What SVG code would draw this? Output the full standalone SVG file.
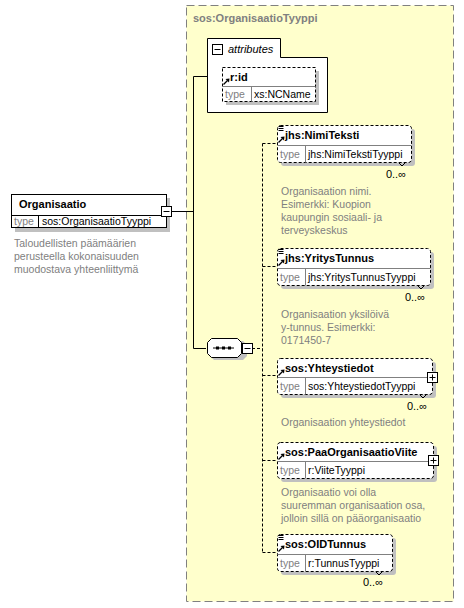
<svg xmlns="http://www.w3.org/2000/svg" width="464" height="608" viewBox="0 0 464 608">
<defs>
<style>
.name{font-family:"Liberation Sans",Arial,sans-serif;font-weight:bold;font-size:11px;fill:#000}
.tl{font-family:"Liberation Sans",Arial,sans-serif;font-size:10.5px;fill:#808080}
.tv{font-family:"Liberation Sans",Arial,sans-serif;font-size:10.5px;fill:#000}
.doc{font-family:"Liberation Sans",Arial,sans-serif;font-size:10.5px;fill:#808080}
.mult{font-family:"Liberation Sans",Arial,sans-serif;font-size:11px;fill:#000}
.shadow{fill:#c0c0c0;stroke:none}
.box{fill:#fff;stroke:#000;stroke-width:1}
.opt{fill:#fff;stroke:#000;stroke-width:1;stroke-dasharray:3 2}
.div{stroke:#808080;stroke-width:1;fill:none}
.ln{stroke:#000;stroke-width:1;fill:none}
.dl{stroke:#000;stroke-width:1;fill:none;stroke-dasharray:3 2}
.btn{fill:#fff;stroke:#000;stroke-width:1}
</style>
<g id="ico-lines"><path d="M0.5 0.5H5.5M0.5 2.5H5.5M0.5 4.5H5.5" stroke="#000" stroke-width="1" fill="none"/></g>
<g id="ico-ref"><path d="M0.5 6.5L4.5 2.5" stroke="#000" stroke-width="1.2" fill="none"/><path d="M2.5 1L6.5 0.5L6 4.5Z" fill="#000"/></g>
</defs>

<g id="complexType">
<rect x="186.5" y="5.5" width="267" height="596" fill="#ffffcc" stroke="#808080" stroke-width="1" stroke-dasharray="8 4"/>
<text x="193" y="22" class="name" style="fill:#808080">sos:OrganisaatioTyyppi</text>
</g>

<g id="connectors">
<path class="ln" d="M171 211.5H193.5M193.5 76.5V348.5M193.5 76.5H207M193.5 348.5H206"/>
<path class="dl" d="M252 348.5H262.5M262.5 143.5V552.5M262.5 143.5H277M262.5 266.5H277M262.5 375.5H277M262.5 460.5H277M262.5 552.5H277"/>
</g>

<g id="organisaatio">
<rect x="15" y="198" width="155" height="34" class="shadow"/>
<rect x="11.5" y="194.5" width="155" height="33" class="box"/>
<path class="ln" d="M11.5 215.5H166.5M38.5 215.5V227.5"/>
<text x="19" y="208" class="name">Organisaatio</text>
<text x="14" y="225" class="tl">type</text>
<text x="42" y="225" class="tv">sos:OrganisaatioTyyppi</text>
<rect x="161.5" y="206.5" width="10" height="10" class="btn"/>
<path class="ln" d="M163.5 211.5H169.5"/>
<text class="doc"><tspan x="14" y="247">Taloudellisten päämäärien</tspan><tspan x="14" y="260">perusteella kokonaisuuden</tspan><tspan x="14" y="273">muodostava yhteenliittymä</tspan></text>
</g>

<g id="attributes">
<path d="M207.5 112.5V38.5H280.5V57.5H327.5V112.5Z" fill="#fff" stroke="#000" stroke-width="1"/>
<rect x="212.5" y="44.5" width="10" height="10" class="btn"/>
<path class="ln" d="M214.5 49.5H220.5"/>
<text x="228" y="53" style="font-family:'Liberation Sans',Arial,sans-serif;font-size:11px;font-style:italic;fill:#000">attributes</text>
</g>

<g id="attr-rid">
<rect x="226" y="71" width="93" height="34" class="shadow"/>
<rect x="222.5" y="67.5" width="93" height="34" class="opt"/>
<path class="div" d="M222.5 86.5H315.5M251.5 86.5V101.5"/>
<use href="#ico-ref" x="223" y="78"/>
<text x="230" y="81" class="name">r:id</text>
<text x="225" y="98" class="tl">type</text>
<text x="254" y="98" class="tv">xs:NCName</text>
</g>

<g id="sequence">
<path d="M214 341H243L247 345V356L243 360H214L210 356V345Z" class="shadow"/>
<path d="M211.5 338.5H237.5L241.5 342.5V353.5L237.5 357.5H211.5L207.5 353.5V342.5Z" fill="#fff" stroke="#000" stroke-width="1"/>
<path class="ln" d="M213 348H234"/>
<rect x="216" y="346.5" width="3" height="3" fill="#000"/>
<rect x="222" y="346.5" width="3" height="3" fill="#000"/>
<rect x="228" y="346.5" width="3" height="3" fill="#000"/>
<rect x="242.5" y="343.5" width="10" height="10" class="btn"/>
<path class="ln" d="M244.5 348.5H250.5"/>
</g>

<g id="el-nimiteksti">
<rect x="281" y="129" width="134" height="37" rx="3" class="shadow"/>
<rect x="277.5" y="125.5" width="134" height="37" rx="3" class="opt"/>
<path class="div" d="M277.5 145.5H411.5M305.5 145.5V162.5"/>
<use href="#ico-lines" x="278" y="126"/>
<use href="#ico-ref" x="278" y="136"/>
<text x="285" y="139" class="name">jhs:NimiTeksti</text>
<text x="280" y="158" class="tl">type</text>
<text x="308" y="158" class="tv">jhs:NimiTekstiTyyppi</text>
<path class="ln" d="M399 163L402 166L405 163"/>
<text x="406" y="178" class="mult" text-anchor="end">0..∞</text>
<text class="doc"><tspan x="281" y="195">Organisaation nimi.</tspan><tspan x="281" y="208">Esimerkki: Kuopion</tspan><tspan x="281" y="221">kaupungin sosiaali- ja</tspan><tspan x="281" y="234">terveyskeskus</tspan></text>
</g>

<g id="el-yritystunnus">
<rect x="281" y="252" width="153" height="37" rx="3" class="shadow"/>
<rect x="277.5" y="248.5" width="153" height="37" rx="3" class="opt"/>
<path class="div" d="M277.5 268.5H430.5M305.5 268.5V285.5"/>
<use href="#ico-lines" x="278" y="249"/>
<use href="#ico-ref" x="278" y="259"/>
<text x="285" y="262" class="name">jhs:YritysTunnus</text>
<text x="280" y="281" class="tl">type</text>
<text x="308" y="281" class="tv">jhs:YritysTunnusTyyppi</text>
<path class="ln" d="M418 286L421 289L424 286"/>
<text x="425" y="301" class="mult" text-anchor="end">0..∞</text>
<text class="doc"><tspan x="281" y="318">Organisaation yksilöivä</tspan><tspan x="281" y="331">y-tunnus. Esimerkki:</tspan><tspan x="281" y="344">0171450-7</tspan></text>
</g>

<g id="el-yhteystiedot">
<rect x="281" y="362" width="155" height="36" rx="3" class="shadow"/>
<rect x="277.5" y="358.5" width="155" height="36" rx="3" class="opt"/>
<path class="div" d="M277.5 377.5H432.5M305.5 377.5V394.5"/>
<use href="#ico-ref" x="278" y="369"/>
<text x="285" y="372" class="name">sos:Yhteystiedot</text>
<text x="280" y="390" class="tl">type</text>
<text x="308" y="390" class="tv">sos:YhteystiedotTyyppi</text>
<rect x="427.5" y="372.5" width="10" height="10" class="btn"/>
<path class="ln" d="M429.5 377.5H435.5M432.5 374.5V380.5"/>
<path class="ln" d="M420 395L423 398L426 395"/>
<text x="427" y="410" class="mult" text-anchor="end">0..∞</text>
<text x="281" y="426" class="doc">Organisaation yhteystiedot</text>
</g>

<g id="el-paaorganisaatioviite">
<rect x="281" y="446" width="156" height="36" rx="3" class="shadow"/>
<rect x="277.5" y="442.5" width="156" height="36" rx="3" class="opt"/>
<path class="div" d="M277.5 461.5H433.5M305.5 461.5V478.5"/>
<use href="#ico-ref" x="278" y="453"/>
<text x="285" y="456" class="name">sos:PaaOrganisaatioViite</text>
<text x="280" y="474" class="tl">type</text>
<text x="308" y="474" class="tv">r:ViiteTyyppi</text>
<rect x="428.5" y="455.5" width="10" height="10" class="btn"/>
<path class="ln" d="M430.5 460.5H436.5M433.5 457.5V463.5"/>
<text class="doc"><tspan x="281" y="496">Organisaatio voi olla</tspan><tspan x="281" y="509">suuremman organisaation osa,</tspan><tspan x="281" y="522">jolloin sillä on pääorganisaatio</tspan></text>
</g>

<g id="el-oidtunnus">
<rect x="281" y="538" width="115" height="37" rx="3" class="shadow"/>
<rect x="277.5" y="534.5" width="115" height="37" rx="3" class="opt"/>
<path class="div" d="M277.5 554.5H392.5M305.5 554.5V571.5"/>
<use href="#ico-lines" x="278" y="535"/>
<use href="#ico-ref" x="278" y="545"/>
<text x="285" y="548" class="name">sos:OIDTunnus</text>
<text x="280" y="567" class="tl">type</text>
<text x="308" y="567" class="tv">r:TunnusTyyppi</text>
<path class="ln" d="M376 572L379 575L382 572"/>
<text x="383" y="586" class="mult" text-anchor="end">0..∞</text>
</g>
</svg>
